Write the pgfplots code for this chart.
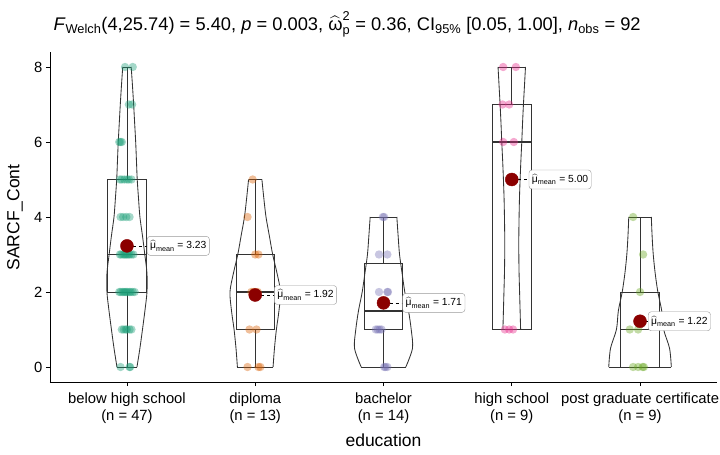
\documentclass[border=0pt]{standalone}
\usepackage{fontspec}
\setmainfont{Liberation Sans}
\usepackage{amsmath}
\usepackage{pgfplots}
\usepackage{pgfplotstable}
\usepgfplotslibrary{statistics}
\pgfplotsset{compat=1.18}
\definecolor{cA}{HTML}{1B9E77}
\definecolor{cB}{HTML}{D95F02}
\definecolor{cC}{HTML}{7570B3}
\definecolor{cD}{HTML}{E7298A}
\definecolor{cE}{HTML}{66A61E}
\definecolor{meanred}{HTML}{8B0000}
\definecolor{lgray}{HTML}{333333}

\pgfplotstableread{
y w
0 0.078
0.5 0.101
1 0.121
1.5 0.140
2 0.156
2.5 0.156
3 0.139
3.5 0.121
4 0.101
4.5 0.090
5 0.080
5.5 0.074
6 0.068
6.5 0.060
7 0.052
7.5 0.043
8 0.033
}\vA
\pgfplotstableread{
y w
0 0.139
0.5 0.150
1 0.165
1.5 0.185
2 0.197
2.5 0.170
3 0.136
3.5 0.110
4 0.084
4.5 0.067
5 0.052
}\vB
\pgfplotstableread{
y w
0 0.174
0.5 0.226
1 0.216
1.5 0.195
2 0.166
2.5 0.145
3 0.125
3.5 0.114
4 0.104
}\vC
\pgfplotstableread{
y w
1 0.069
1.5 0.065
2 0.061
2.5 0.057
3 0.055
3.5 0.055
4 0.057
4.5 0.060
5 0.065
5.5 0.071
6 0.078
6.5 0.084
7 0.091
7.5 0.099
8 0.107
}\vD
\pgfplotstableread{
y w
0 0.244
0.5 0.230
1 0.184
1.5 0.169
2 0.139
2.5 0.118
3 0.103
3.5 0.094
4 0.088
}\vE

\pgfplotstableread{
x y
0.95 0
1.02 0
1.025 0
0.96 1
0.975 1
0.99 1
1.00 1
1.02 1
1.035 1
0.94 2
0.95 2
0.965 2
0.975 2
0.985 2
0.995 2
1.005 2
1.02 2
1.03 2
1.045 2
1.06 2
0.945 3
0.955 3
0.97 3
0.98 3
0.99 3
1.0 3
1.01 3
1.02 3
1.035 3
1.05 3
0.95 4
0.97 4
0.995 4
1.02 4
0.945 5
0.96 5
0.98 5
1.0 5
1.015 5
1.035 5
0.94 6
0.95 6
0.96 6
1.015 7
1.04 7
0.985 8
1.045 8
}\pA
\pgfplotstableread{
x y
1.94 0
2.025 0
2.04 0
1.955 1
2.01 1
1.97 2
1.985 2
2.0 2
2.02 2
2.0 3
2.025 3
1.94 4
1.98 5
}\pB
\pgfplotstableread{
x y
3.005 0
3.015 0
3.03 0
2.94 1
2.955 1
2.97 1
2.985 1
2.965 2
3.03 2
3.035 2
2.965 3
3.03 3
2.995 4
3.005 4
}\pC
\pgfplotstableread{
x y
3.946 1
3.98 1
4.01 1
3.933 6
4.016 6
3.928 7
3.98 7
3.933 8
4.032 8
}\pD
\pgfplotstableread{
x y
4.946 0
4.985 0
5.03 0
5.02 0
4.92 1
4.985 1
5.0 2
5.024 3
4.946 4
}\pE
\pgfplotstableread{
x y
1 3.23
2 1.92
3 1.71
4 5.00
5 1.22
}\means

\newcommand{\violin}[2]{% center, table
  \addplot[lgray, line width=0.85pt, smooth] table[x expr=#1+\thisrow{w}, y=y] {#2};
  \addplot[lgray, line width=0.85pt, smooth] table[x expr=#1-\thisrow{w}, y=y] {#2};
}
\newcommand{\bx}[6]{%
  \addplot[lgray, line width=0.85pt, solid,
    boxplot/draw direction=y,
    boxplot prepared={draw position=#1, lower whisker=#2, lower quartile=#3,
      median=#4, upper quartile=#5, upper whisker=#6, box extend=0.3,
      whisker extend=0, every median/.style={line width=1.8pt}}]
    coordinates {};
}
\newcommand{\lab}[4]{% x, y, shift, text
  \draw[black, dashed, line width=0.6pt] (axis cs:#1,#2) -- ([xshift=#3]axis cs:#1,#2);
  \node[draw=gray!80, rounded corners=3pt, fill=white, anchor=west,
    inner xsep=3pt, minimum height=19pt, minimum width=62pt,
    font=\fontsize{10.3}{12}\selectfont]
    at ([xshift=#3]axis cs:#1,#2) {$\widehat{\text{μ}}_{\text{mean}}$ = #4};
}
\newcommand{\pts}[2]{%
  \addplot[only marks, mark=*, mark size=4.2pt,
    mark options={draw opacity=0, fill=#1, fill opacity=0.4}] table {#2};
}

\begin{document}
\begin{tikzpicture}
\path[use as bounding box] (-50pt,-73pt) rectangle (670pt,382pt);
\begin{axis}[
  at={(0pt,0pt)}, anchor=south west,
  scale only axis, width=667pt, height=330pt,
  xmin=0.4, xmax=5.6, ymin=-0.4, ymax=8.4,
  axis x line*=bottom, axis y line*=left,
  axis line style={black, line width=0.7pt},
  xtick={1,2,3,4,5},
  xticklabels={{below high school\\(n = 47)},{diploma\\(n = 13)},{bachelor\\(n = 14)},{high school\\(n = 9)},{post graduate certificate\\(n = 9)}},
  xticklabel style={align=center, font=\fontsize{14.8}{17}\selectfont, yshift=-3pt},
  ytick={0,2,4,6,8},
  yticklabel style={font=\fontsize{14.8}{17}\selectfont},
  /pgf/number format/assume math mode=true,
  tick align=outside, major tick length=4pt,
  tick style={black, line width=0.7pt},
  clip=false,
]
\violin{1}{\vA}
\addplot[lgray, line width=0.85pt] coordinates {(0.922,0) (1.078,0)};
\addplot[lgray, line width=0.85pt] coordinates {(0.967,8) (1.033,8)};
\violin{2}{\vB}
\addplot[lgray, line width=0.85pt] coordinates {(1.861,0) (2.139,0)};
\addplot[lgray, line width=0.85pt] coordinates {(1.948,5) (2.052,5)};
\violin{3}{\vC}
\addplot[lgray, line width=0.85pt] coordinates {(2.826,0) (3.174,0)};
\addplot[lgray, line width=0.85pt] coordinates {(2.896,4) (3.104,4)};
\violin{4}{\vD}
\addplot[lgray, line width=0.85pt] coordinates {(3.931,1) (4.069,1)};
\addplot[lgray, line width=0.85pt] coordinates {(3.893,8) (4.107,8)};
\violin{5}{\vE}
\addplot[lgray, line width=0.85pt] coordinates {(4.756,0) (5.244,0)};
\addplot[lgray, line width=0.85pt] coordinates {(4.912,4) (5.088,4)};

\bx{1}{0}{2}{3}{5}{8}
\bx{2}{0}{1}{2}{3}{5}
\bx{3}{0}{1}{1.5}{2.75}{4}
\bx{4}{1}{1}{6}{7}{8}
\bx{5}{0}{0}{1}{2}{4}

\pts{cA}{\pA}
\pts{cB}{\pB}
\pts{cC}{\pC}
\pts{cD}{\pD}
\pts{cE}{\pE}

\lab{1}{3.23}{20pt}{3.23}
\lab{2}{1.92}{19pt}{1.92}
\lab{3}{1.71}{19pt}{1.71}
\lab{4}{5.00}{17pt}{5.00}
\lab{5}{1.22}{8pt}{1.22}

\addplot[only marks, mark=*, mark size=6.5pt, mark options={draw=meanred, fill=meanred}] table {\means};
\end{axis}
\node[anchor=base west, font=\fontsize{18.3}{21}\selectfont] at (0pt,351.5pt)
  {\textit{F}$_{\text{Welch}}$(4,25.74) = 5.40, \textit{p} = 0.003, $\widehat{\text{ω}}^{\text{2}}_{\text{p}}$ = 0.36, CI$_{\text{95\%}}$ [0.05, 1.00], \textit{n}$_{\text{obs}}$ = 92};
\node[font=\fontsize{17.5}{20}\selectfont] at (333.5pt,-58pt) {education};
\node[rotate=90, font=\fontsize{17.5}{20}\selectfont] at (-35pt,164.5pt) {SARCF\_Cont};
\end{tikzpicture}
\end{document}
